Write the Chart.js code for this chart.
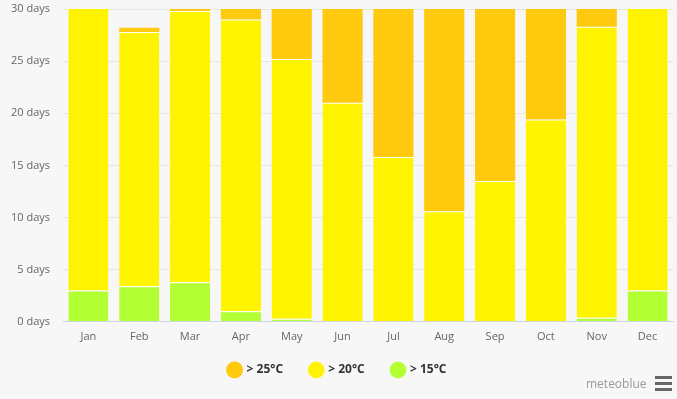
<!DOCTYPE html>
<html>
<head>
<meta charset="utf-8">
<script src="https://cdn.jsdelivr.net/npm/chart.js@4"></script>
<style>
  html, body { margin: 0; padding: 0; background: #f7f7f7; }
  #wrap { position: relative; width: 677px; height: 399px; }
  #credits { position: absolute; left: 586px; top: 375px; font: 12px "Open Sans", sans-serif; color: #999; }
  #menu { position: absolute; left: 655px; top: 376px; width: 17px; }
  #menu span { display: block; height: 3px; background: #666; margin-bottom: 3px; }
</style>
</head>
<body>
<div id="wrap">
  <canvas id="chart" width="677" height="399"></canvas>
  <div id="credits">meteoblue</div>
  <div id="menu"><span></span><span></span><span></span></div>
</div>
<script>
const months = ['Jan', 'Feb', 'Mar', 'Apr', 'May', 'Jun', 'Jul', 'Aug', 'Sep', 'Oct', 'Nov', 'Dec'];
// days per month in each band (stacked, bottom to top)
const above15 = [3.0, 3.4, 3.8, 1.0, 0.3, 0, 0, 0, 0, 0, 0.4, 3.0];
const above20 = [28.0, 24.4, 26.0, 28.0, 24.9, 21.0, 15.8, 10.6, 13.5, 19.4, 27.9, 28.0];
const above25 = [0, 0.4, 1.2, 1.0, 5.8, 9.0, 15.2, 20.4, 16.5, 11.6, 1.7, 0];
const yTicks = [0, 5, 10, 15, 20, 25, 30];

const font = 'Open Sans';
const barOpts = { borderColor: '#ffffff', borderSkipped: 'bottom', categoryPercentage: 1, barPercentage: 0.79 };

new Chart(document.getElementById('chart'), {
    type: 'bar',
    data: {
        labels: months,
        datasets: [
            { label: '> 15°C', data: above15, backgroundColor: '#b2ff34', borderWidth: { top: 1 }, ...barOpts },
            { label: '> 20°C  ', data: above20, backgroundColor: '#fff400', borderWidth: { top: 1 }, ...barOpts },
            { label: '> 25°C  ', data: above25, backgroundColor: '#ffc90e', borderWidth: 0, ...barOpts }
        ]
    },
    options: {
        responsive: false,
        animation: false,
        layout: { padding: { top: 9, left: 2, right: 4, bottom: 13 } },
        scales: {
            x: {
                stacked: true,
                grid: { display: false },
                border: { color: '#ccd6eb' },
                ticks: { color: '#666', font: { family: font, size: 11 }, padding: 0 }
            },
            y: {
                stacked: true,
                min: 0,
                max: 30,
                afterBuildTicks: s => { s.ticks = yTicks.map(v => ({ value: v })); },
                afterFit: s => { s.width = 61; s.paddingTop = 0; s.paddingBottom = 0; },
                grid: { color: '#e6e6e6', drawTicks: false },
                border: { display: false },
                ticks: {
                    color: '#666',
                    font: { family: font, size: 11 },
                    padding: 13,
                    callback: v => v + ' days'
                }
            }
        },
        plugins: {
            legend: {
                position: 'bottom',
                reverse: true,
                labels: {
                    usePointStyle: true,
                    pointStyle: 'circle',
                    boxWidth: 12,
                    boxHeight: 12,
                    padding: 21,
                    color: '#333',
                    font: { family: font, size: 12, weight: 'bold' }
                }
            },
            tooltip: { enabled: false }
        }
    }
});
</script>
</body>
</html>
